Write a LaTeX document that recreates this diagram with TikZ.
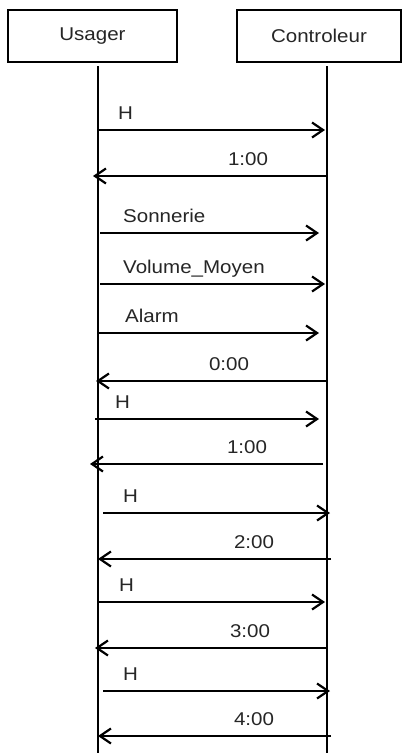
\documentclass[tikz,border=0pt]{standalone}
\usepackage{fontspec}
\setmainfont{Liberation Sans}[FakeStretch=1.11]
\usetikzlibrary{arrows.meta}
\tikzset{
  actor/.style={draw, line width=2pt, minimum width=169pt, minimum height=52pt,
    inner sep=0pt, font=\fontsize{18.5}{21}\selectfont, text=black!85},
  lifeline/.style={line width=2.3pt},
  msg/.style={line width=2pt, -{Straight Barb[length=11pt,width=15pt,line width=2.2pt]}},
  msglabel/.style={inner sep=0pt, font=\fontsize{18.5}{21}\selectfont, text=black!85}
}
\begin{document}
\begin{tikzpicture}[x=1pt,y=-1pt]
\useasboundingbox[fill=white] (0,0) rectangle (404,753);

% participants
\node[actor] (usager) at (92.5,36) {Usager};
\node[actor, minimum width=164pt] (ctrl) at (319,36) {Controleur};

% lifelines
\coordinate (utop) at (98,66);
\coordinate (ubot) at (98,753);
\coordinate (ctop) at (327,66);
\coordinate (cbot) at (327,753);
\draw[lifeline] (utop) -- (ubot);
\draw[lifeline] (ctop) -- (cbot);

% messages: index / arrow y / start x / end x / label x / label anchor / text
\foreach \i/\y/\xa/\xb/\lx/\la/\t in {
  1/130/98/325/118/base west/H,
  2/176/327/93/248/base/1:00,
  3/233/100/319/123/base west/Sonnerie,
  4/284/100/325/123/base west/Volume\_Moyen,
  5/333/98/319/125/base west/Alarm,
  6/381/327/96/229/base/0:00,
  7/419/95/319/115/base west/H,
  8/464/323/90/247/base/1:00,
  9/513/103/330/123/base west/H,
  10/559/331/98/254/base/2:00,
  11/602/98/325/119/base west/H,
  12/648/327/95/250/base/3:00,
  13/691/103/330/123/base west/H,
  14/736/331/98/254/base/4:00}
{
  \coordinate (m\i a) at (\xa,\y);
  \coordinate (m\i b) at (\xb,\y);
  \draw[msg] (m\i a) -- (m\i b);
  \node[msglabel, anchor=\la] (l\i) at (\lx,\y-11) {\t};
}
\end{tikzpicture}
\end{document}
